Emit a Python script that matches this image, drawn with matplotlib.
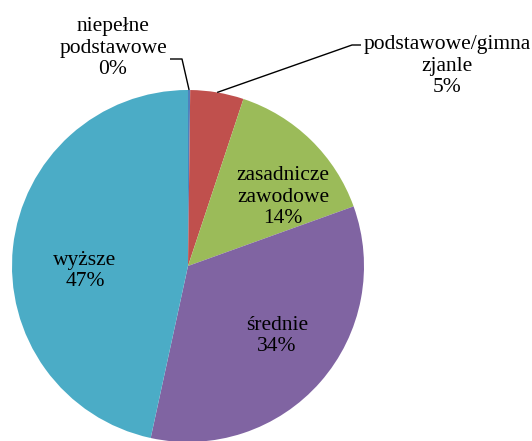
import matplotlib.pyplot as plt
from matplotlib import font_manager as fm
import numpy as np

serif_path = fm.findfont(fm.FontProperties(family='Liberation Serif'))
label_font = fm.FontProperties(fname=serif_path, size=15.5)

# Education level shares (%)
categories = ['niepełne\npodstawowe', 'podstawowe/gimna\nzjanle', 'zasadnicze\nzawodowe', 'średnie', 'wyższe']
shares = [0.2, 4.9, 14.4, 33.9, 46.6]
colors = ['#4F81BD', '#C0504D', '#9BBB59', '#8064A2', '#4BACC6']

W, H = 532, 441
fig = plt.figure(figsize=(W / 100, H / 100), dpi=100)
ax = fig.add_axes([0, 0, 1, 1])

# work in pixel-like coordinates (y measured from the top, flipped for plotting)
cx, cy, R = 188, 266, 176
wedges, _ = ax.pie(shares, colors=colors, startangle=90, counterclock=False,
                   center=(cx, H - cy), radius=R,
                   wedgeprops=dict(linewidth=0))
ax.set_xlim(0, W)
ax.set_ylim(0, H)
ax.set_aspect('equal')
ax.axis('off')

total = sum(shares)
label_pos = [(113, 48), (447, 66), (283, 197), (277, 336), (85, 271)]
for cat, val, (x, y) in zip(categories, shares, label_pos):
    ax.text(x, H - y, f"{cat}\n{100 * val / total:.0f}%", ha='center', va='center',
            fontproperties=label_font, linespacing=1.15, color='black')

# leader lines for the two small outer labels
elbows = {0: [(182, 59), (170, 59)], 1: [(352, 45), (361, 45)]}
for i, pts in elbows.items():
    w = wedges[i]
    mid = np.deg2rad((w.theta1 + w.theta2) / 2)
    sx, sy = cx + R * np.cos(mid), H - cy + R * np.sin(mid)
    xs = [sx] + [p[0] for p in pts]
    ys = [sy] + [H - p[1] for p in pts]
    ax.plot(xs, ys, color='black', lw=1.0, solid_capstyle='butt', zorder=5)

fig.savefig('out.png', dpi=100)
